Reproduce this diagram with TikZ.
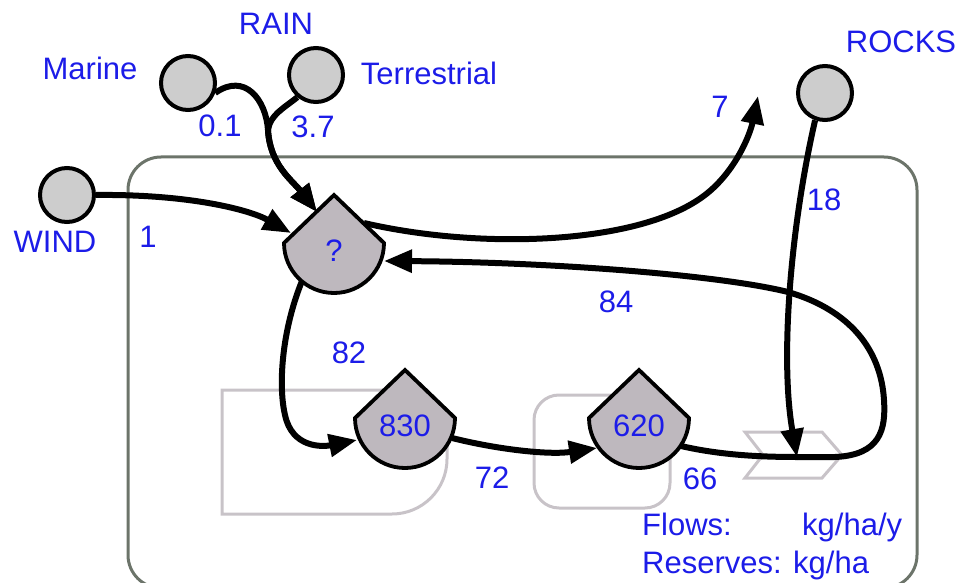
\documentclass[tikz,border=0pt]{standalone}
\usepackage{fontspec}
\setmainfont{Liberation Sans}
\usepackage{xcolor}
\usetikzlibrary{arrows.meta, calc}

\definecolor{lblblue}{RGB}{28,28,232}
\definecolor{boxgray}{RGB}{108,116,106}
\definecolor{ghost}{RGB}{200,195,200}
\definecolor{tankfill}{RGB}{190,184,190}
\definecolor{srcfill}{RGB}{205,205,205}

\tikzset{
    src/.style={circle, draw=black, line width=4pt, fill=srcfill,
        minimum size=54pt, inner sep=0pt},
    tank/.style={circle, minimum size=100pt, inner sep=0pt, text=lblblue,
        text height=36pt, text depth=0pt},
    tankline/.style={draw=black, fill=tankfill, line width=3.8pt, line join=miter},
    lbl/.style={text=lblblue, inner sep=0pt, text height=22pt, text depth=0pt},
    boxline/.style={draw=boxgray, line width=3pt},
    ghostline/.style={draw=ghost, line width=3pt},
    pipe/.style={line width=6pt},
    flow/.style={line width=6pt, -{Triangle[length=28pt,width=22pt]}}
}

% storage tank: name, centre, text
\newcommand{\tank}[3]{%
    \path[tankline] ($(#2)+(0,-48)$) -- ($(#2)+(50,0)$)
        arc[start angle=0, end angle=180, radius=50] -- cycle;
    \node[tank] (#1) at (#2) {#3};}

\begin{document}
\begin{tikzpicture}[x=1pt, y=-1pt, font=\fontsize{31pt}{36pt}\selectfont]
    \useasboundingbox (0,0) rectangle (964,583);
    % system frame and grey outlines
    \draw[boxline, rounded corners=33pt] (128,157) rectangle (917,588);
    \draw[ghostline] (395,390) -- (222,390) -- (222,514) -- (392,514)
        arc[start angle=90, end angle=0, radius=55] -- (447,430);
    \draw[ghostline, rounded corners=25pt] (534,395) rectangle (670,508);
    \draw[ghostline] (745,432) -- (822,432) -- (842,455) -- (822,478)
        -- (745,478) -- (763,455) -- cycle;

    % storages
    \tank{q}{334,243}{?}
    \tank{s1}{405,418}{830}
    \tank{s2}{639,418}{620}

    % sources
    \node[src] (mar) at (188,83) {};
    \node[src] (ter) at (316,75) {};
    \node[src] (wind) at (67,195) {};
    \node[src] (rock) at (825,93) {};
    \coordinate (sink) at (797,457);
    \coordinate (loss) at (758,96);

    % labels
    \node[lbl] (rainlbl) at (276,24) {RAIN};
    \node[lbl] (marlbl) at (90,69) {Marine};
    \node[lbl] (terlbl) at (429,74) {Terrestrial};
    \node[lbl] (windlbl) at (55,241) {WIND};
    \node[lbl] (rocklbl) at (901,42) {ROCKS};
    \node[lbl] (f01) at (220,126) {0.1};
    \node[lbl] (f37) at (313,127) {3.7};
    \node[lbl] (f1) at (148,236) {1};
    \node[lbl] (f7) at (720,107) {7};
    \node[lbl] (f18) at (824,200) {18};
    \node[lbl] (f84) at (616,301) {84};
    \node[lbl] (f82) at (349,352) {82};
    \node[lbl] (f72) at (492,477) {72};
    \node[lbl] (f66) at (700,478) {66};
    \node[lbl, anchor=west] (flows) at (642,524) {Flows:};
    \node[lbl, anchor=west] (flowunit) at (802,524) {kg/ha/y};
    \node[lbl, anchor=west] (reserves) at (642,562) {Reserves: kg/ha};

    % flows
    \draw[flow] (mar.-20) .. controls (245,72) and (266,100) .. (268,130)
        .. controls (270,165) and (292,180) .. ($(q)+(-17,-31)$);
    \draw[flow] (ter.-130) .. controls (284,108) and (270,115) .. (268,130)
        .. controls (270,165) and (292,180) .. ($(q)+(-17,-31)$);
    \draw[flow] (wind.east) .. controls (190,194) and (250,210) .. ($(q)+(-43,-10)$);
    \draw[flow] ($(q)+(30,-20)$) .. controls (480,250) and (640,245) .. (705,195)
        .. controls (735,172) and (750,135) .. (loss);
    \draw[flow] ($(q)+(-32,38)$) .. controls (282,330) and (278,385) .. (285,415)
        .. controls (292,448) and (322,447) .. ($(s1)+(-48,22)$);
    \draw[flow] ($(s1)+(47,20)$) .. controls (500,450) and (550,455) .. ($(s2)+(-42,30)$);
    \draw[pipe] ($(s2)+(42,28)$) .. controls (720,455) and (760,457) .. (sink);
    \draw[flow] (rock.-110) .. controls (790,230) and (780,360) .. (sink);
    \draw[flow] (sink) -- (835,457) .. controls (880,455) and (886,430) .. (884,400)
        .. controls (881,350) and (850,310) .. (788,292)
        .. controls (720,275) and (550,262) .. ($(q)+(50,18)$);
\end{tikzpicture}
\end{document}
